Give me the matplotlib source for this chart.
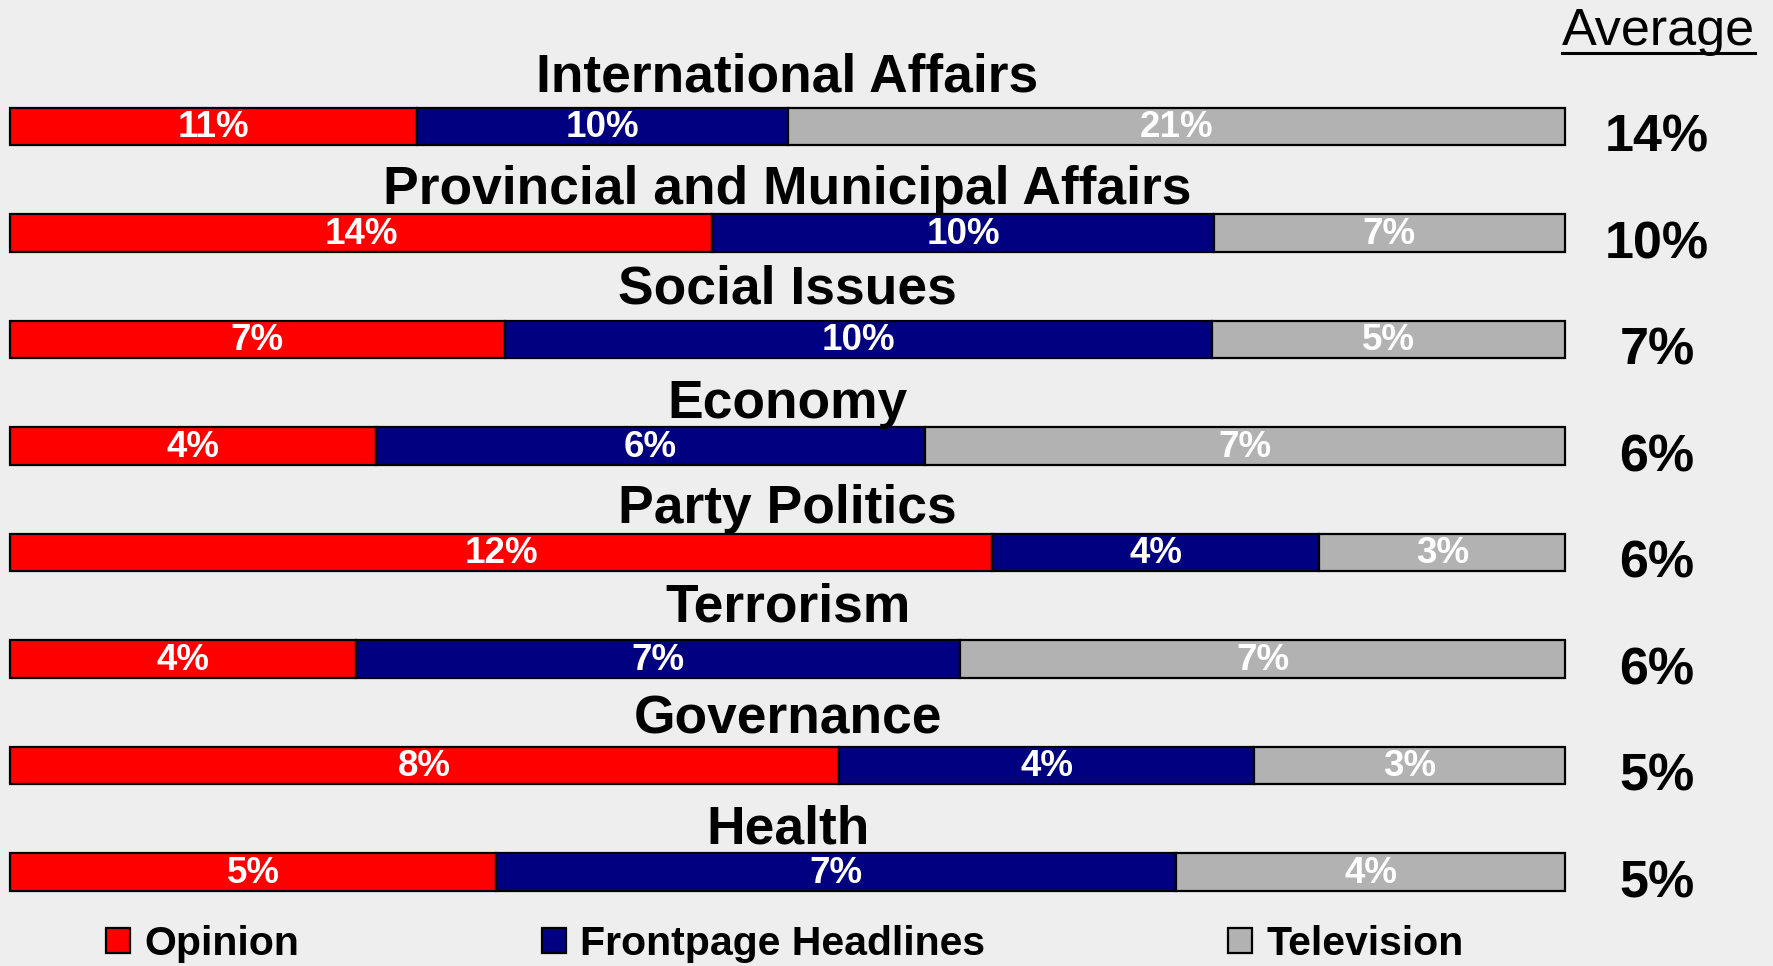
import numpy as np
import matplotlib
matplotlib.use('Agg')
import matplotlib.pyplot as plt
from matplotlib.patches import Patch

plt.rcParams['font.family'] = ['Liberation Sans', 'DejaVu Sans']

# data
topics = ['International Affairs', 'Provincial and Municipal Affairs', 'Social Issues',
          'Economy', 'Party Politics', 'Terrorism', 'Governance', 'Health']
opinion = [11, 14, 7, 4, 12, 4, 8, 5]
frontpage = [10, 10, 10, 6, 4, 7, 4, 7]
television = [21, 7, 5, 7, 3, 7, 3, 4]
average = [14, 10, 7, 6, 6, 6, 5, 5]
series_names = ['Opinion', 'Frontpage Headlines', 'Television']
colors = ['#FF0000', '#000080', '#B2B2B2']
bg = '#EEEEEE'

# how far (px) each topic title's baseline sits above its bar centre
title_lift = [35, 29, 36.5, 28, 29.5, 37, 32.5, 29]

W, H = 1773, 966
row = 106.5
fig = plt.figure(figsize=(W/100, H/100), dpi=100, facecolor=bg)
ax = fig.add_axes([0, 0, 1, 1])
ax.set_facecolor(bg)
ax.axis('off')

# map: x=0 at 10px, x=1 at 1565px; row i centred at 126.5 + 106.5*i px
ax.set_xlim(-10/1555, 1763/1555)
ax.set_ylim((H - 126.5)/row, -126.5/row)

vals = np.array([opinion, frontpage, television], dtype=float)
totals = vals.sum(axis=0)
shares = vals / totals
y = np.arange(len(topics))
left = np.zeros(len(topics))
for k in range(3):
    ax.barh(y, shares[k], left=left, height=0.355, color=colors[k],
            edgecolor='black', linewidth=1.6, zorder=2)
    for i in range(len(topics)):
        ax.text(left[i] + shares[k][i]/2, y[i] + 0.103, '%d%%' % vals[k][i],
                ha='center', va='baseline', color='white', fontsize=26.5,
                fontweight='bold', zorder=3)
    left = left + shares[k]

for i, name in enumerate(topics):
    ax.text(0.5, y[i] - title_lift[i]/row, name, ha='center', va='baseline',
            fontsize=38.4, fontweight='bold', color='black')
    ax.text((1657-10)/1555, y[i] + 0.235, '%d%%' % average[i], ha='center',
            va='baseline', fontsize=37.5, fontweight='bold', color='black')

hdr = ax.text((1755-10)/1555, (45-126.5)/row, 'Average', ha='right',
              va='baseline', fontsize=37.5, color='black')
fig.canvas.draw()
bb = hdr.get_window_extent()
fig.add_artist(plt.Line2D([bb.x0/W, bb.x1/W], [1 - 53/H, 1 - 53/H],
                          color='black', linewidth=2.2))

handles = [Patch(facecolor=c, edgecolor='black', linewidth=1.6) for c in colors]
fig.legend(handles, series_names, loc='center left', ncol=3,
           bbox_to_anchor=(106/W, 1 - 944/H), frameon=False,
           prop={'size': 29.5, 'weight': 'bold'}, handlelength=0.59,
           handleheight=0.59, handletextpad=0.34, columnspacing=5.93,
           borderpad=0, borderaxespad=0)

fig.savefig('out.png', dpi=100, facecolor=bg)
